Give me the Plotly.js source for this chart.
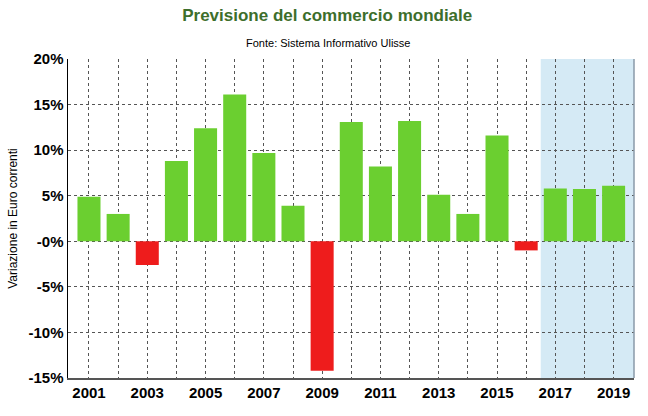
<!DOCTYPE html>
<html>
<head>
<meta charset="utf-8">
<script src="https://cdn.plot.ly/plotly-3.0.1.min.js"></script>
<style>
  html, body { margin: 0; padding: 0; background: #ffffff; }
  #chart { width: 648px; height: 416px; }
</style>
</head>
<body>
<div id="chart"></div>
<script>
// data
var years = [2001, 2002, 2003, 2004, 2005, 2006, 2007, 2008, 2009, 2010,
             2011, 2012, 2013, 2014, 2015, 2016, 2017, 2018, 2019];
var variazione = [4.9, 3.0, -2.6, 8.8, 12.4, 16.1, 9.7, 3.9, -14.2, 13.1,
                  8.2, 13.2, 5.1, 3.0, 11.6, -1.0, 5.8, 5.75, 6.1];
var yTickVals = [-15, -10, -5, 0, 5, 10, 15, 20];
var yTickText = ['-15%', '-10%', '-5%', '-0%', '5%', '10%', '15%', '20%'];
var xTickText = years.map(function (y) { return y % 2 === 1 ? String(y) : ''; });
var forecastStart = 2016.5;

var barColors = variazione.map(function (v) { return v < 0 ? '#ee1c1c' : '#6bcf30'; });

var trace1 = {
    x: years,
    y: variazione,
    type: 'bar',
    marker: { color: barColors, line: { width: 0 } },
    width: 0.79,
    hoverinfo: 'x+y'
};

var layout = {
    width: 648,
    height: 416,
    margin: { l: 68, r: 14, t: 59, b: 38, pad: 0 },
    paper_bgcolor: '#ffffff',
    plot_bgcolor: '#ffffff',
    showlegend: false,
    font: { family: 'Liberation Sans, Arial, sans-serif', color: '#000000' },
    title: {
        text: 'Previsione del commercio mondiale',
        font: { family: 'Liberation Sans, Arial, sans-serif', size: 17, color: '#3d6e2b', weight: 'bold' },
        x: 0.505, xanchor: 'center',
        y: 0.965, yanchor: 'middle'
    },
    annotations: [{
        text: 'Fonte: Sistema Informativo Ulisse',
        xref: 'paper', yref: 'paper',
        x: 0.46, y: 1.0, xanchor: 'center', yanchor: 'bottom',
        yshift: 8,
        showarrow: false,
        font: { family: 'Liberation Sans, Arial, sans-serif', size: 11, color: '#000000' }
    }],
    xaxis: {
        range: [2000.28, 2019.7],
        tickmode: 'array',
        tickvals: years,
        ticktext: xTickText,
        ticks: '',
        tickfont: { size: 15, weight: 'bold' },
        showgrid: true,
        gridcolor: '#555555',
        griddash: '3px,3px',
        gridwidth: 1,
        showline: true,
        linecolor: '#555555',
        linewidth: 2,
        zeroline: false,
        fixedrange: true
    },
    yaxis: {
        range: [-15, 20],
        tickmode: 'array',
        tickvals: yTickVals,
        ticktext: yTickText,
        ticks: '',
        tickfont: { size: 15, weight: 'bold' },
        showgrid: true,
        gridcolor: '#555555',
        griddash: '3px,3px',
        gridwidth: 1,
        showline: true,
        linecolor: '#000000',
        linewidth: 1.5,
        zeroline: false,
        title: {
            text: 'Variazione in Euro correnti',
            font: { size: 12 },
            standoff: 8
        },
        fixedrange: true
    },
    shapes: [
        {
            type: 'rect', layer: 'below',
            xref: 'x', yref: 'paper',
            x0: forecastStart, x1: 2019.7, y0: 0, y1: 1,
            fillcolor: '#d5eaf5', line: { width: 0 }
        },
        {
            type: 'line', layer: 'above',
            xref: 'paper', yref: 'paper',
            x0: 1, x1: 1, y0: 0, y1: 1,
            line: { color: '#8a9aa8', width: 1.5 }
        }
    ]
};

Plotly.newPlot('chart', [trace1], layout, { displayModeBar: false, staticPlot: true });
</script>
</body>
</html>
